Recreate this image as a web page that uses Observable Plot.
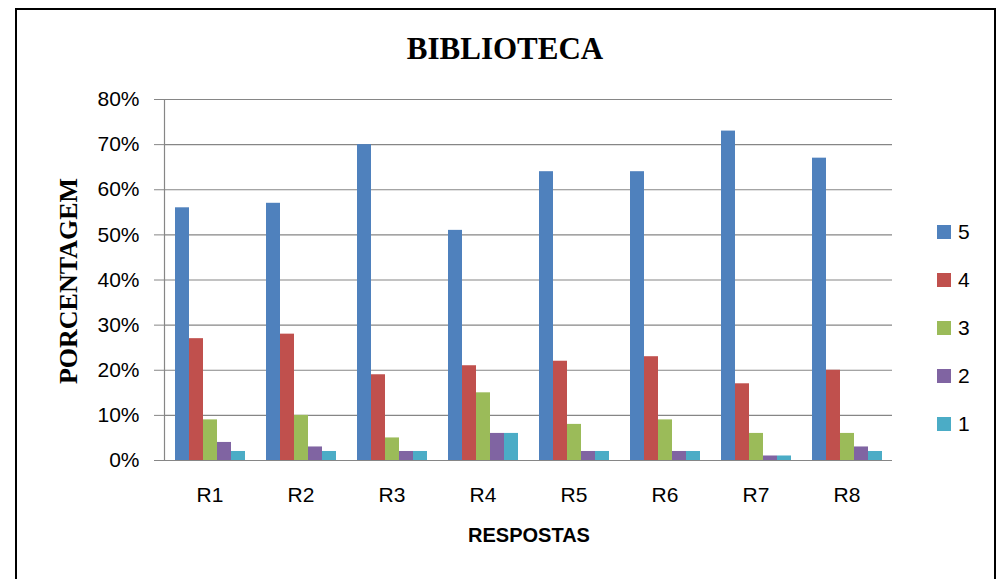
<!DOCTYPE html>
<html>
<head>
<meta charset="utf-8">
<script src="https://cdn.jsdelivr.net/npm/d3@7"></script>
<script src="https://cdn.jsdelivr.net/npm/@observablehq/plot@0.6"></script>
<style>
  html, body { margin: 0; padding: 0; background: #fff; overflow: hidden; }
  #wrap { position: relative; width: 1004px; height: 579px; overflow: hidden; background: #fff; }
  #border { position: absolute; left: 15px; top: 8px; width: 981px; height: 620px; border: 2px solid #000; box-sizing: border-box; }
  #chart { position: absolute; left: 0; top: 0; }
  #title { position: absolute; left: 0; width: 1010px; top: 31px; text-align: center; font-family: "Liberation Serif", serif; font-weight: bold; font-size: 31px; }
  #ylabel { position: absolute; left: 69px; top: 281px; transform: translate(-50%, -50%) rotate(-90deg); font-family: "Liberation Serif", serif; font-weight: bold; font-size: 26px; white-space: nowrap; }
  #xlabel { position: absolute; left: 0; width: 1058px; top: 524px; text-align: center; font-family: "Liberation Sans", sans-serif; font-weight: bold; font-size: 20px; }
  #legend { position: absolute; left: 937px; top: 208px; font-family: "Liberation Sans", sans-serif; font-size: 21px; }
  .item { display: flex; align-items: center; height: 48px; }
  .sw { width: 14px; height: 14px; margin-right: 7px; }
</style>
</head>
<body>
<div id="wrap">
  <div id="border"></div>
  <div id="chart"></div>
  <div id="title">BIBLIOTECA</div>
  <div id="ylabel">PORCENTAGEM</div>
  <div id="xlabel">RESPOSTAS</div>
  <div id="legend"></div>
</div>
<script>
const categories = ["R1", "R2", "R3", "R4", "R5", "R6", "R7", "R8"];
const series = ["5", "4", "3", "2", "1"];
const values5 = [56, 57, 70, 51, 64, 64, 73, 67];
const values4 = [27, 28, 19, 21, 22, 23, 17, 20];
const values3 = [9, 10, 5, 15, 8, 9, 6, 6];
const values2 = [4, 3, 2, 6, 2, 2, 1, 3];
const values1 = [2, 2, 2, 6, 2, 2, 1, 2];
const colors = ["#4F81BD", "#C0504D", "#9BBB59", "#8064A2", "#4BACC6"];
const yTicks = [0, 10, 20, 30, 40, 50, 60, 70, 80];

const seriesValues = [values5, values4, values3, values2, values1];
const data = categories.flatMap((c, i) =>
  series.map((s, j) => ({cat: c, serie: s, value: seriesValues[j][i]}))
);

const chart = Plot.plot({
  width: 1004,
  height: 579,
  marginTop: 99,
  marginBottom: 119,
  marginLeft: 160,
  marginRight: 109,
  style: {fontFamily: "Liberation Sans, sans-serif", color: "#000", background: "transparent"},
  fx: {domain: categories, padding: 0},
  x: {domain: series, paddingInner: 0, paddingOuter: 0.747, axis: null},
  y: {domain: [0, 80]},
  color: {domain: series, range: colors},
  marks: [
    Plot.gridY(yTicks, {stroke: "#868686", strokeOpacity: 1, strokeWidth: 1.2}),
    Plot.barY(data, {fx: "cat", x: "serie", y: "value", fill: "serie"}),
    Plot.ruleY([0], {stroke: "#868686", strokeWidth: 1.2}),
    Plot.frame({anchor: "left", stroke: "#868686", strokeWidth: 1.2, facetAnchor: "left"}),
    Plot.axisY(yTicks, {tickFormat: d => d + "%", tickSize: 10, tickPadding: 15, fontSize: 21, stroke: "#868686", label: null}),
    Plot.axisFx({anchor: "bottom", tickSize: 0, tickPadding: 27, fontSize: 21, label: null})
  ]
});
document.getElementById("chart").appendChild(chart);

const legend = document.getElementById("legend");
series.forEach((s, j) => {
  const item = document.createElement("div");
  item.className = "item";
  const sw = document.createElement("div");
  sw.className = "sw";
  sw.style.background = colors[j];
  const lab = document.createElement("span");
  lab.textContent = s;
  item.appendChild(sw);
  item.appendChild(lab);
  legend.appendChild(item);
});
</script>
</body>
</html>
